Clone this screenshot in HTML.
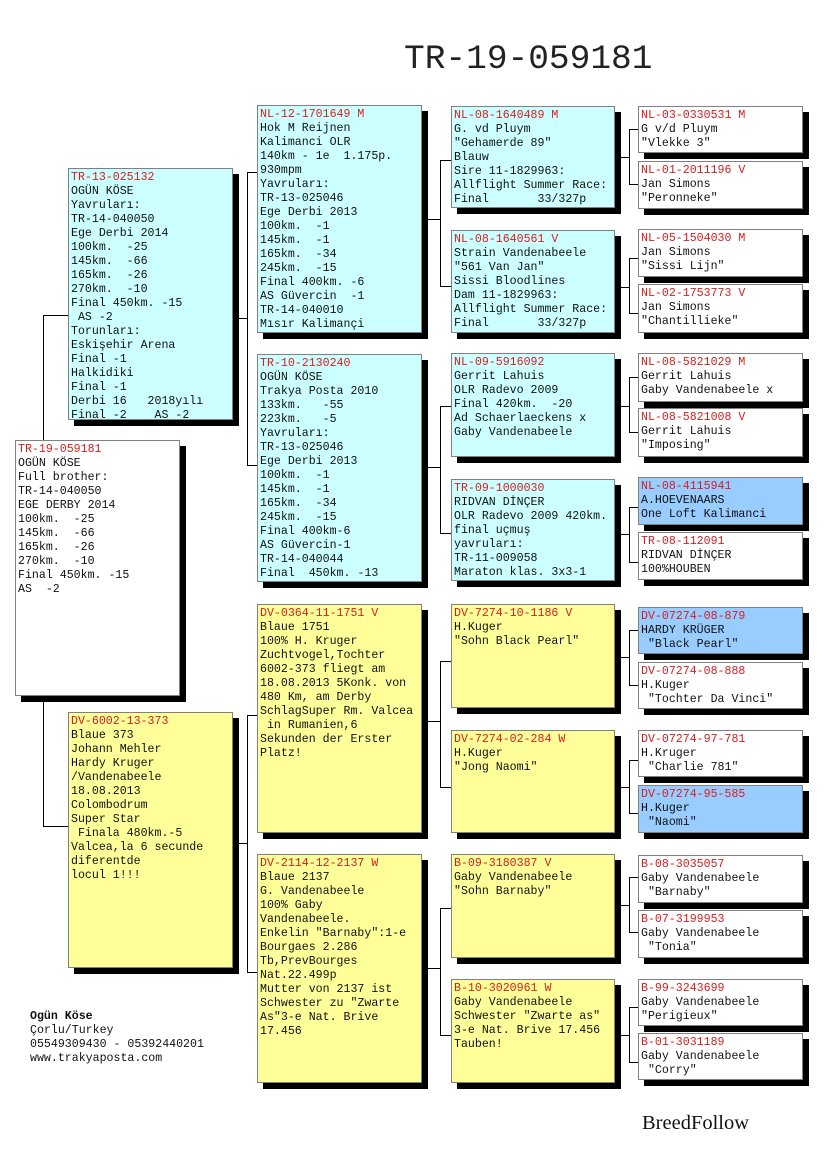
<!DOCTYPE html>
<html><head><meta charset="utf-8">
<style>
html,body{margin:0;padding:0;background:#fff;}
body{width:825px;height:1172px;position:relative;overflow:hidden;font-family:"Liberation Mono","Noto Sans CJK JP",monospace;}
.b{position:absolute;box-sizing:border-box;border:1px solid #808080;box-shadow:6px 6px 0 #000;font-size:11.6px;line-height:14px;padding:2px 0 0 2px;white-space:pre;color:#111;overflow:hidden;}
.c{background:#ccffff}.y{background:#ffff99}.w{background:#fff}.l{background:#99ccff}
.r{color:#d42020}
.h{position:absolute;height:1px;background:#000}
.v{position:absolute;width:1px;background:#000}
.t{position:absolute;white-space:pre;}
</style></head><body>
<div class="t" style="left:404px;top:40px;font-size:34.5px;line-height:40px;color:#222;">TR-19-059181</div>

<div class="v" style="left:43px;top:315px;height:512px"></div>
<div class="h" style="left:43px;top:315px;width:25px"></div>
<div class="h" style="left:43px;top:826px;width:25px"></div>
<div class="v" style="left:247px;top:172px;height:294px"></div>
<div class="h" style="left:247px;top:172px;width:10px"></div>
<div class="h" style="left:247px;top:465px;width:10px"></div>
<div class="h" style="left:233px;top:318px;width:14px"></div>
<div class="v" style="left:247px;top:715px;height:258px"></div>
<div class="h" style="left:247px;top:715px;width:10px"></div>
<div class="h" style="left:247px;top:972px;width:10px"></div>
<div class="h" style="left:233px;top:843px;width:14px"></div>
<div class="v" style="left:440px;top:160px;height:127px"></div>
<div class="h" style="left:440px;top:160px;width:11px"></div>
<div class="h" style="left:440px;top:286px;width:11px"></div>
<div class="h" style="left:422px;top:219px;width:18px"></div>
<div class="v" style="left:440px;top:406px;height:128px"></div>
<div class="h" style="left:440px;top:406px;width:11px"></div>
<div class="h" style="left:440px;top:533px;width:11px"></div>
<div class="h" style="left:422px;top:467px;width:18px"></div>
<div class="v" style="left:440px;top:661px;height:127px"></div>
<div class="h" style="left:440px;top:661px;width:11px"></div>
<div class="h" style="left:440px;top:787px;width:11px"></div>
<div class="h" style="left:422px;top:721px;width:18px"></div>
<div class="v" style="left:440px;top:908px;height:128px"></div>
<div class="h" style="left:440px;top:908px;width:11px"></div>
<div class="h" style="left:440px;top:1035px;width:11px"></div>
<div class="h" style="left:422px;top:968px;width:18px"></div>
<div class="v" style="left:629px;top:129px;height:56px"></div><div class="h" style="left:629px;top:129px;width:9px"></div><div class="h" style="left:629px;top:184px;width:9px"></div><div class="h" style="left:615px;top:157px;width:14px"></div>
<div class="v" style="left:629px;top:258px;height:56px"></div><div class="h" style="left:629px;top:258px;width:9px"></div><div class="h" style="left:629px;top:313px;width:9px"></div><div class="h" style="left:615px;top:287px;width:14px"></div>
<div class="v" style="left:629px;top:377px;height:56px"></div><div class="h" style="left:629px;top:377px;width:9px"></div><div class="h" style="left:629px;top:432px;width:9px"></div><div class="h" style="left:615px;top:406px;width:14px"></div>
<div class="v" style="left:629px;top:507px;height:56px"></div><div class="h" style="left:629px;top:507px;width:9px"></div><div class="h" style="left:629px;top:562px;width:9px"></div><div class="h" style="left:615px;top:534px;width:14px"></div>
<div class="v" style="left:629px;top:630px;height:56px"></div><div class="h" style="left:629px;top:630px;width:9px"></div><div class="h" style="left:629px;top:685px;width:9px"></div><div class="h" style="left:615px;top:657px;width:14px"></div>
<div class="v" style="left:629px;top:760px;height:54px"></div><div class="h" style="left:629px;top:760px;width:9px"></div><div class="h" style="left:629px;top:813px;width:9px"></div><div class="h" style="left:615px;top:787px;width:14px"></div>
<div class="v" style="left:629px;top:877px;height:56px"></div><div class="h" style="left:629px;top:877px;width:9px"></div><div class="h" style="left:629px;top:932px;width:9px"></div><div class="h" style="left:615px;top:905px;width:14px"></div>
<div class="v" style="left:629px;top:1007px;height:56px"></div><div class="h" style="left:629px;top:1007px;width:9px"></div><div class="h" style="left:629px;top:1062px;width:9px"></div><div class="h" style="left:615px;top:1035px;width:14px"></div>

<div class="b w" style="left:15px;top:440px;width:165px;height:256px"><span class="r">TR-19-059181</span>
OGÜN KÖSE
Full brother:
TR-14-040050
EGE DERBY 2014
100km.  -25
145km.  -66
165km.  -26
270km.  -10
Final 450km. -15
AS  -2</div>

<div class="b c" style="left:68px;top:168px;width:165px;height:252px"><span class="r">TR-13-025132</span>
OGÜN KÖSE
Yavruları:
TR-14-040050
Ege Derbi 2014
100km.  -25
145km.  -66
165km.  -26
270km.  -10
Final 450km. -15
 AS -2
Torunları:
Eskişehir Arena
Final -1
Halkidiki
Final -1
Derbi 16   2018yılı
Final -2    AS -2</div>
<div class="b y" style="left:68px;top:712px;width:165px;height:256px"><span class="r">DV-6002-13-373</span>
Blaue 373
Johann Mehler
Hardy Kruger
/Vandenabeele
18.08.2013
Colombodrum
Super Star
 Finala 480km.-5
Valcea,la 6 secunde
diferentde
locul 1!!!</div>

<div class="b c" style="left:257px;top:105px;width:165px;height:228px"><span class="r">NL-12-1701649 M</span>
Hok M Reijnen
Kalimanci OLR
140km - 1e  1.175p.
930mpm
Yavruları:
TR-13-025046
Ege Derbi 2013
100km.  -1
145km.  -1
165km.  -34
245km.  -15
Final 400km. -6
AS Güvercin  -1
TR-14-040010
Mısır Kalimançi</div>
<div class="b c" style="left:257px;top:354px;width:165px;height:228px"><span class="r">TR-10-2130240</span>
OGÜN KÖSE
Trakya Posta 2010
133km.   -55
223km.   -5
Yavruları:
TR-13-025046
Ege Derbi 2013
100km.  -1
145km.  -1
165km.  -34
245km.  -15
Final 400km-6
AS Güvercin-1
TR-14-040044
Final  450km. -13</div>
<div class="b y" style="left:257px;top:604px;width:165px;height:229px"><span class="r">DV-0364-11-1751 V</span>
Blaue 1751
100% H. Kruger
Zuchtvogel,Tochter
6002-373 fliegt am
18.08.2013 5Konk. von
480 Km, am Derby
SchlagSuper Rm. Valcea
 in Rumanien,6
Sekunden der Erster
Platz!</div>
<div class="b y" style="left:257px;top:854px;width:165px;height:229px"><span class="r">DV-2114-12-2137 W</span>
Blaue 2137
G. Vandenabeele
100% Gaby
Vandenabeele.
Enkelin "Barnaby":1-e
Bourgaes 2.286
Tb,PrevBourges
Nat.22.499p
Mutter von 2137 ist
Schwester zu "Zwarte
As"3-e Nat. Brive
17.456</div>

<div class="b c" style="left:451px;top:106px;width:164px;height:102px"><span class="r">NL-08-1640489 M</span>
G. vd Pluym
"Gehamerde 89"
Blauw
Sire 11-1829963:
Allflight Summer Race:
Final       33/327p</div>
<div class="b c" style="left:451px;top:230px;width:164px;height:103px"><span class="r">NL-08-1640561 V</span>
Strain Vandenabeele
"561 Van Jan"
Sissi Bloodlines
Dam 11-1829963:
Allflight Summer Race:
Final       33/327p</div>
<div class="b c" style="left:451px;top:353px;width:164px;height:104px"><span class="r">NL-09-5916092</span>
Gerrit Lahuis
OLR Radevo 2009
Final 420km.  -20
Ad Schaerlaeckens x
Gaby Vandenabeele</div>
<div class="b c" style="left:451px;top:479px;width:164px;height:102px"><span class="r">TR-09-1000030</span>
RIDVAN DİNÇER
OLR Radevo 2009 420km.
final uçmuş
yavruları:
TR-11-009058
Maraton klas. 3x3-1</div>
<div class="b y" style="left:451px;top:604px;width:164px;height:104px"><span class="r">DV-7274-10-1186 V</span>
H.Kuger
"Sohn Black Pearl"</div>
<div class="b y" style="left:451px;top:730px;width:164px;height:103px"><span class="r">DV-7274-02-284 W</span>
H.Kuger
"Jong Naomi"</div>
<div class="b y" style="left:451px;top:854px;width:164px;height:104px"><span class="r">B-09-3180387 V</span>
Gaby Vandenabeele
"Sohn Barnaby"</div>
<div class="b y" style="left:451px;top:979px;width:164px;height:104px"><span class="r">B-10-3020961 W</span>
Gaby Vandenabeele
Schwester "Zwarte as"
3-e Nat. Brive 17.456
Tauben!</div>

<div class="b w" style="left:638px;top:106px;width:165px;height:47px"><span class="r">NL-03-0330531 M</span>
G v/d Pluym
"Vlekke 3"</div>
<div class="b w" style="left:638px;top:161px;width:165px;height:48px"><span class="r">NL-01-2011196 V</span>
Jan Simons
"Peronneke"</div>
<div class="b w" style="left:638px;top:229px;width:165px;height:48px"><span class="r">NL-05-1504030 M</span>
Jan Simons
"Sissi Lijn"</div>
<div class="b w" style="left:638px;top:284px;width:165px;height:49px"><span class="r">NL-02-1753773 V</span>
Jan Simons
"Chantillieke"</div>
<div class="b w" style="left:638px;top:353px;width:165px;height:49px"><span class="r">NL-08-5821029 M</span>
Gerrit Lahuis
Gaby Vandenabeele x</div>
<div class="b w" style="left:638px;top:408px;width:165px;height:49px"><span class="r">NL-08-5821008 V</span>
Gerrit Lahuis
"Imposing"</div>
<div class="b l" style="left:638px;top:477px;width:165px;height:48px"><span class="r">NL-08-4115941</span>
A.HOEVENAARS
One Loft Kalimanci</div>
<div class="b w" style="left:638px;top:532px;width:165px;height:48px"><span class="r">TR-08-112091</span>
RIDVAN DİNÇER
100%HOUBEN</div>
<div class="b l" style="left:638px;top:607px;width:165px;height:47px"><span class="r">DV-07274-08-879</span>
HARDY KRÜGER
 "Black Pearl"</div>
<div class="b w" style="left:638px;top:662px;width:165px;height:47px"><span class="r">DV-07274-08-888</span>
H.Kuger
 "Tochter Da Vinci"</div>
<div class="b w" style="left:638px;top:730px;width:165px;height:47px"><span class="r">DV-07274-97-781</span>
H.Kruger
 "Charlie 781"</div>
<div class="b l" style="left:638px;top:785px;width:165px;height:48px"><span class="r">DV-07274-95-585</span>
H.Kuger
 "Naomi"</div>
<div class="b w" style="left:638px;top:855px;width:165px;height:48px"><span class="r">B-08-3035057</span>
Gaby Vandenabeele
 "Barnaby"</div>
<div class="b w" style="left:638px;top:910px;width:165px;height:48px"><span class="r">B-07-3199953</span>
Gaby Vandenabeele
 "Tonia"</div>
<div class="b w" style="left:638px;top:979px;width:165px;height:47px"><span class="r">B-99-3243699</span>
Gaby Vandenabeele
"Perigieux"</div>
<div class="b w" style="left:638px;top:1033px;width:165px;height:47px"><span class="r">B-01-3031189</span>
Gaby Vandenabeele
 "Corry"</div>

<div class="t" style="left:30px;top:1010px;font-size:11.6px;line-height:14px;color:#111"><b>Ogün Köse</b>
Çorlu/Turkey
05549309430 - 05392440201
www.trakyaposta.com</div>
<div class="t" style="left:642px;top:1111px;font-family:'Liberation Serif',serif;font-size:20.5px;line-height:25px;color:#111">BreedFollow</div>
</body></html>
